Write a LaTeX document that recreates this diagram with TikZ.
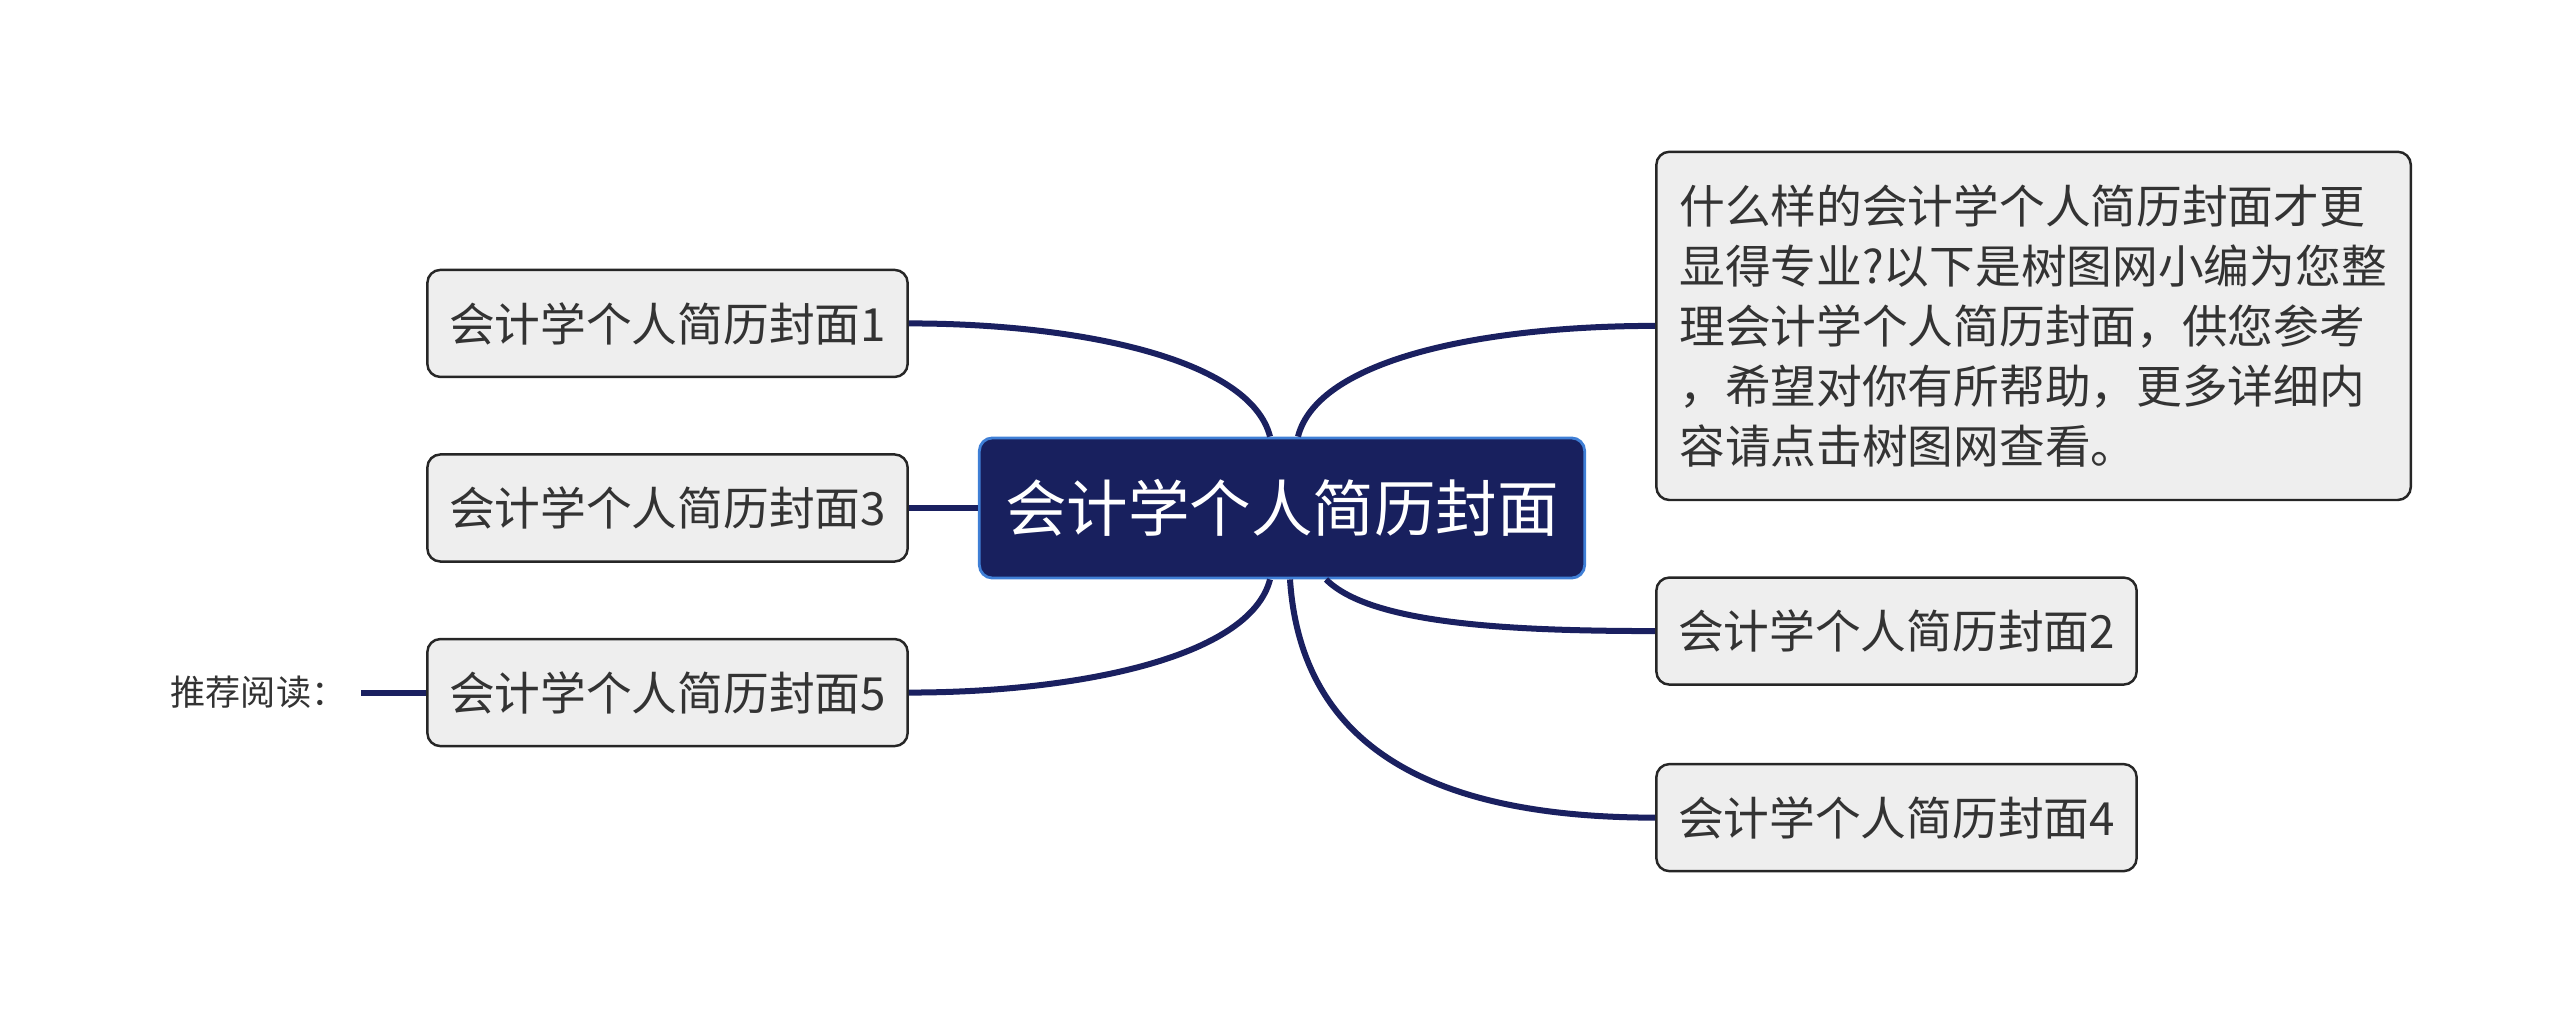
\documentclass[tikz,border=0pt]{standalone}
\usepackage{fontspec}
\setmainfont{Noto Sans CJK SC}
\usetikzlibrary{positioning, calc}
\definecolor{rootc}{HTML}{18205E}
\definecolor{rootline}{HTML}{3F7FD6}
\definecolor{linkc}{HTML}{1A2060}
\definecolor{boxc}{HTML}{EEEEEE}
\definecolor{txtc}{HTML}{333333}
\newcommand{\fsz}[2]{\fontsize{#1}{#2}\selectfont}

\begin{document}
\begin{tikzpicture}[
  x=0.01cm, y=-0.01cm,
  topic/.style={draw=rootline, line width=0.8pt, fill=rootc, rounded corners=0.13cm, minimum width=6.05cm, minimum height=1.4cm, text=white, font=\fsz{17.5pt}{21pt}},
  sub/.style={draw=black!85, line width=0.7pt, fill=boxc, rounded corners=0.13cm, minimum width=4.8cm, minimum height=1.07cm, text=txtc, font=\fsz{13pt}{16pt}},
  note/.style={sub, minimum width=7.54cm, minimum height=3.48cm, inner xsep=0.23cm, text width=7.08cm, align=left, font=\fsz{13pt}{17.1pt}},
  link/.style={draw=linkc, line width=0.06cm}
]
\useasboundingbox (0,0) rectangle (2560,1019);

% central topic and left branch
\node[topic] (root) at (1282,508) {会计学个人简历封面};
\node[sub, left=0.69cm of root] (t3) {会计学个人简历封面3};
\node[sub, above=0.75cm of t3] (t1) {会计学个人简历封面1};
\node[sub, below=0.75cm of t3] (t5) {会计学个人简历封面5};
\node[font=\fsz{10pt}{12pt}, text=txtc, inner xsep=0.14cm, left=0.65cm of t5] (more) {推荐阅读：};

% right branch
\node[note, right=0.69cm of root, yshift=1.82cm] (intro) {什么样的会计学个人简历封面才更\\
显得专业?以下是树图网小编为您整\\
理会计学个人简历封面，供您参考\\
，希望对你有所帮助，更多详细内\\
容请点击树图网查看。};
\node[sub, right=0.69cm of root, yshift=-1.23cm] (t2) {会计学个人简历封面2};
\node[sub, below=0.77cm of t2] (t4) {会计学个人简历封面4};

\draw[link] (root.west) -- (t3.east);
\draw[link] ($(root.north)+(-12,0)$) .. controls +(-20,-78) and +(169,0) .. (t1.east);
\draw[link] ($(root.south)+(-12,0)$) .. controls +(-20,78) and +(169,0) .. (t5.east);
\draw[link] ($(root.north)+(16,0)$) .. controls +(20,-78) and +(-170,0) .. (intro.west);
\draw[link] ($(root.south)+(44,0)$) .. controls +(44,44) and +(-150,0) .. (t2.west);
\draw[link] ($(root.south)+(8,0)$) .. controls +(12,182) and +(-200,0) .. (t4.west);
\draw[link] (more.east) -- (t5.west);
\end{tikzpicture}
\end{document}
